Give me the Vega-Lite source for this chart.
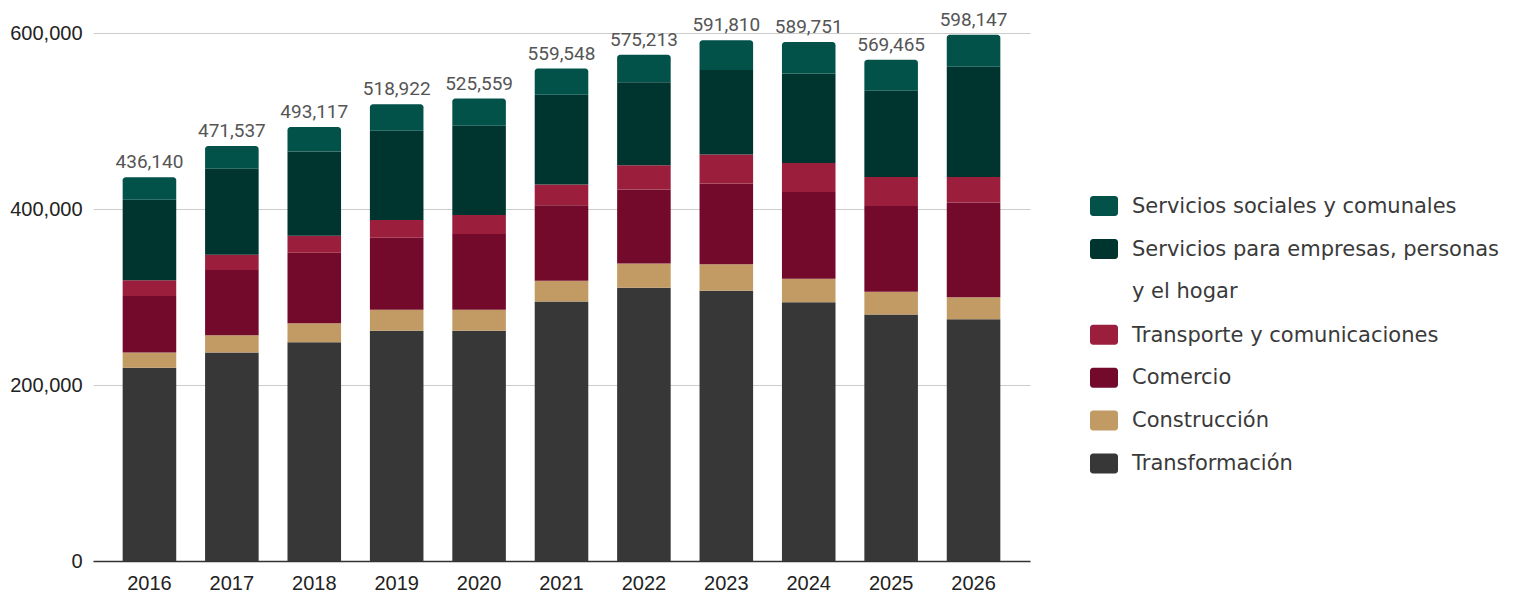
{
  "$schema": "https://vega.github.io/schema/vega-lite/v6.json",
  "width": 937,
  "height": 528,
  "autosize": "none",
  "padding": {"left": 93, "top": 33, "right": 485, "bottom": 32},
  "background": "white",
  "config": {"view": {"stroke": null}},
  "data": {
    "values": [
      {"anio": "2016", "sector": "Transformación", "valor": 219600},
      {"anio": "2016", "sector": "Construcción", "valor": 17400},
      {"anio": "2016", "sector": "Comercio", "valor": 64200},
      {"anio": "2016", "sector": "Transporte y comunicaciones", "valor": 17700},
      {"anio": "2016", "sector": "Servicios para empresas, personas y el hogar", "valor": 91700},
      {"anio": "2016", "sector": "Servicios sociales y comunales", "valor": 25540},
      {"anio": "2017", "sector": "Transformación", "valor": 237000},
      {"anio": "2017", "sector": "Construcción", "valor": 19600},
      {"anio": "2017", "sector": "Comercio", "valor": 74000},
      {"anio": "2017", "sector": "Transporte y comunicaciones", "valor": 17400},
      {"anio": "2017", "sector": "Servicios para empresas, personas y el hogar", "valor": 97700},
      {"anio": "2017", "sector": "Servicios sociales y comunales", "valor": 25837},
      {"anio": "2018", "sector": "Transformación", "valor": 248700},
      {"anio": "2018", "sector": "Construcción", "valor": 21500},
      {"anio": "2018", "sector": "Comercio", "valor": 80000},
      {"anio": "2018", "sector": "Transporte y comunicaciones", "valor": 19300},
      {"anio": "2018", "sector": "Servicios para empresas, personas y el hogar", "valor": 95800},
      {"anio": "2018", "sector": "Servicios sociales y comunales", "valor": 27817},
      {"anio": "2019", "sector": "Transformación", "valor": 261600},
      {"anio": "2019", "sector": "Construcción", "valor": 23900},
      {"anio": "2019", "sector": "Comercio", "valor": 81800},
      {"anio": "2019", "sector": "Transporte y comunicaciones", "valor": 20100},
      {"anio": "2019", "sector": "Servicios para empresas, personas y el hogar", "valor": 101600},
      {"anio": "2019", "sector": "Servicios sociales y comunales", "valor": 29922},
      {"anio": "2020", "sector": "Transformación", "valor": 261600},
      {"anio": "2020", "sector": "Construcción", "valor": 23900},
      {"anio": "2020", "sector": "Comercio", "valor": 86000},
      {"anio": "2020", "sector": "Transporte y comunicaciones", "valor": 21600},
      {"anio": "2020", "sector": "Servicios para empresas, personas y el hogar", "valor": 101600},
      {"anio": "2020", "sector": "Servicios sociales y comunales", "valor": 30859},
      {"anio": "2021", "sector": "Transformación", "valor": 294900},
      {"anio": "2021", "sector": "Construcción", "valor": 23500},
      {"anio": "2021", "sector": "Comercio", "valor": 85900},
      {"anio": "2021", "sector": "Transporte y comunicaciones", "valor": 23500},
      {"anio": "2021", "sector": "Servicios para empresas, personas y el hogar", "valor": 102000},
      {"anio": "2021", "sector": "Servicios sociales y comunales", "valor": 29748},
      {"anio": "2022", "sector": "Transformación", "valor": 310500},
      {"anio": "2022", "sector": "Construcción", "valor": 27700},
      {"anio": "2022", "sector": "Comercio", "valor": 84100},
      {"anio": "2022", "sector": "Transporte y comunicaciones", "valor": 27300},
      {"anio": "2022", "sector": "Servicios para empresas, personas y el hogar", "valor": 94400},
      {"anio": "2022", "sector": "Servicios sociales y comunales", "valor": 31213},
      {"anio": "2023", "sector": "Transformación", "valor": 307200},
      {"anio": "2023", "sector": "Construcción", "valor": 30100},
      {"anio": "2023", "sector": "Comercio", "valor": 91600},
      {"anio": "2023", "sector": "Transporte y comunicaciones", "valor": 33000},
      {"anio": "2023", "sector": "Servicios para empresas, personas y el hogar", "valor": 96100},
      {"anio": "2023", "sector": "Servicios sociales y comunales", "valor": 33810},
      {"anio": "2024", "sector": "Transformación", "valor": 294000},
      {"anio": "2024", "sector": "Construcción", "valor": 26800},
      {"anio": "2024", "sector": "Comercio", "valor": 98600},
      {"anio": "2024", "sector": "Transporte y comunicaciones", "valor": 33000},
      {"anio": "2024", "sector": "Servicios para empresas, personas y el hogar", "valor": 101500},
      {"anio": "2024", "sector": "Servicios sociales y comunales", "valor": 35851},
      {"anio": "2025", "sector": "Transformación", "valor": 280000},
      {"anio": "2025", "sector": "Construcción", "valor": 26000},
      {"anio": "2025", "sector": "Comercio", "valor": 97300},
      {"anio": "2025", "sector": "Transporte y comunicaciones", "valor": 33000},
      {"anio": "2025", "sector": "Servicios para empresas, personas y el hogar", "valor": 98200},
      {"anio": "2025", "sector": "Servicios sociales y comunales", "valor": 34965},
      {"anio": "2026", "sector": "Transformación", "valor": 274700},
      {"anio": "2026", "sector": "Construcción", "valor": 25100},
      {"anio": "2026", "sector": "Comercio", "valor": 107700},
      {"anio": "2026", "sector": "Transporte y comunicaciones", "valor": 28800},
      {"anio": "2026", "sector": "Servicios para empresas, personas y el hogar", "valor": 125400},
      {"anio": "2026", "sector": "Servicios sociales y comunales", "valor": 36447}
    ]
  },
  "transform": [
    {"calculate": "indexof(['Transformación','Construcción','Comercio','Transporte y comunicaciones','Servicios para empresas, personas y el hogar','Servicios sociales y comunales'], datum.sector)", "as": "orden"},
    {"stack": "valor", "groupby": ["anio"], "sort": [{"field": "orden", "order": "ascending"}], "as": ["v0", "v1"]}
  ],
  "encoding": {
    "x": {
      "field": "anio",
      "type": "ordinal",
      "scale": {"paddingInner": 0.35, "paddingOuter": 0.36},
      "axis": {"title": null, "labelAngle": 0, "ticks": false, "domainColor": "#333333", "domainWidth": 1.3, "labelFont": "Liberation Sans", "labelFontSize": 20, "labelColor": "#222222", "labelPadding": 12}
    },
    "y": {
      "field": "v1",
      "type": "quantitative",
      "scale": {"domain": [0, 600000], "nice": false},
      "axis": {"title": null, "values": [0, 200000, 400000, 600000], "format": ",d", "ticks": false, "domain": false, "gridColor": "#cccccc", "gridWidth": 1, "labelFont": "Liberation Sans", "labelFontSize": 20, "labelColor": "#222222", "labelPadding": 11}
    }
  },
  "layer": [
    {
      "transform": [{"filter": "datum.sector != 'Servicios sociales y comunales'"}],
      "mark": {"type": "bar"},
      "encoding": {
        "y2": {"field": "v0"},
        "color": {
          "field": "sector",
          "type": "nominal",
          "scale": {
            "domain": ["Servicios sociales y comunales", "Servicios para empresas, personas y el hogar", "Transporte y comunicaciones", "Comercio", "Construcción", "Transformación"],
            "range": ["#02524a", "#00352f", "#9b1f3d", "#730a2c", "#c29b64", "#373737"]
          },
          "legend": {
            "orient": "none",
            "legendX": 997,
            "legendY": 159,
            "title": null,
            "symbolType": "M-0.786,-0.714H0.786A0.214,0.214 0 0 1 1,-0.5V0.5A0.214,0.214 0 0 1 0.786,0.714H-0.786A0.214,0.214 0 0 1 -1,0.5V-0.5A0.214,0.214 0 0 1 -0.786,-0.714Z",
            "symbolSize": 784,
            "symbolStrokeWidth": 0,
            "symbolOpacity": 1,
            "labelFont": "DejaVu Sans",
            "labelFontSize": 21,
            "labelColor": "#3a3a3a",
            "labelOffset": 14,
            "labelLimit": 450,
            "rowPadding": 17.9,
            "padding": 0,
            "labelBaseline": "top",
            "labelExpr": "datum.label == 'Servicios para empresas, personas y el hogar' ? ['Servicios para empresas, personas', 'y el hogar'] : datum.label",
            "encode": {"labels": {"update": {"dy": {"value": -10.3}, "lineHeight": {"value": 42.7}}}}
          }
        }
      }
    },
    {
      "transform": [{"filter": "datum.sector == 'Servicios sociales y comunales'"}],
      "mark": {"type": "bar", "cornerRadiusTopLeft": 3, "cornerRadiusTopRight": 3},
      "encoding": {
        "y2": {"field": "v0"},
        "color": {"field": "sector", "type": "nominal"}
      }
    },
    {
      "transform": [{"filter": "datum.sector == 'Servicios sociales y comunales'"}],
      "mark": {"type": "text", "baseline": "alphabetic", "dy": -9, "font": "Roboto", "fontSize": 19, "color": "#555555"},
      "encoding": {
        "text": {"field": "v1", "type": "quantitative", "format": ",d"}
      }
    }
  ]
}
